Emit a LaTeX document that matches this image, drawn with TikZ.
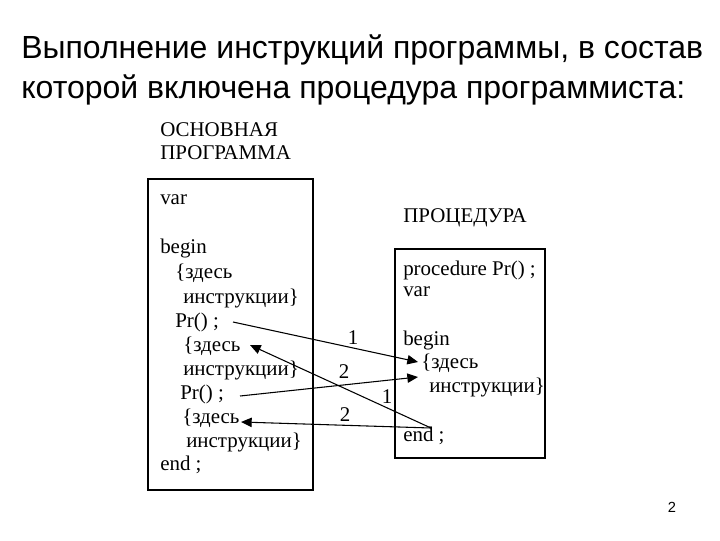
\documentclass[tikz,border=0pt]{standalone}
\usepackage{fontspec}
\setmainfont{Liberation Serif}
\newfontfamily\arial{Liberation Sans}
\usetikzlibrary{arrows.meta}
\begin{document}
\begin{tikzpicture}[x=0.75pt,y=-0.75pt,
  code/.style={anchor=west,inner sep=0pt,font=\fontsize{15.7}{18}\selectfont},
  frame/.style={draw,line width=0.8pt},
  call/.style={line width=0.8pt,-{Triangle[length=8pt,width=7pt]}},
  num/.style={inner sep=0pt,font=\fontsize{15.7}{18}\selectfont},
  title/.style={anchor=west,inner sep=0pt,font=\arial\fontsize{24}{29}\selectfont}]
\useasboundingbox (0,0) rectangle (720,540);
% title
\node[title] (t1) at (21,50) {Выполнение инструкций программы, в состав};
\node[title] (t2) at (21,90) {которой включена процедура программиста:};
% main program
\node[code] (h1) at (160,130) {ОСНОВНАЯ};
\node[code] (h2) at (160,153) {ПРОГРАММА};
\draw[frame] (148,179) rectangle (313,490);
\node[code] (mvar) at (160,200) {var};
\node[code] (mbeg) at (160,248) {begin};
\node[code] (mz1) at (175,273) {\{здесь};
\node[code] (mi1) at (183,298) {инструкции\}};
\node[code] (pr1) at (175,322) {Pr() ;};
\node[code] (mz2) at (183,346) {\{здесь};
\node[code] (mi2) at (183,370) {инструкции\}};
\node[code] (pr2) at (180,394) {Pr() ;};
\node[code] (mz3) at (182,418) {\{здесь};
\node[code] (mi3) at (186,442) {инструкции\}};
\node[code] (mend) at (160,465) {end ;};
% procedure
\node[code] (h3) at (403,218) {ПРОЦЕДУРА};
\draw[frame] (395,249) rectangle (545,458);
\node[code] (ppro) at (403,270) {procedure Pr() ;};
\node[code] (pvar) at (403,292) {var};
\node[code] (pbeg) at (403,340) {begin};
\node[code] (pz) at (421,363) {\{здесь};
\node[code] (pi) at (429,387) {инструкции\}};
\node[code] (pend) at (403,436) {end ;};
% connector ends
\coordinate (a1s) at (233,322);
\coordinate (a1e) at (418,362);
\coordinate (a2s) at (431,428);
\coordinate (a2e) at (250,345);
\coordinate (a3s) at (240,396);
\coordinate (a3e) at (418,377);
\coordinate (a4e) at (241,422);
\draw[call] (a1s) -- (a1e);
\draw[call] (a2s) -- (a2e);
\draw[call] (a3s) -- (a3e);
\draw[call] (a2s) -- (a4e);
\node[num] (n1a) at (353,338) {1};
\node[num] (n1b) at (387,397) {1};
\node[num] (n2a) at (344,372) {2};
\node[num] (n2b) at (345,415) {2};
% page number
\node[inner sep=0pt,font=\arial\fontsize{11}{13}\selectfont] (pg) at (672,507) {2};
\end{tikzpicture}
\end{document}
